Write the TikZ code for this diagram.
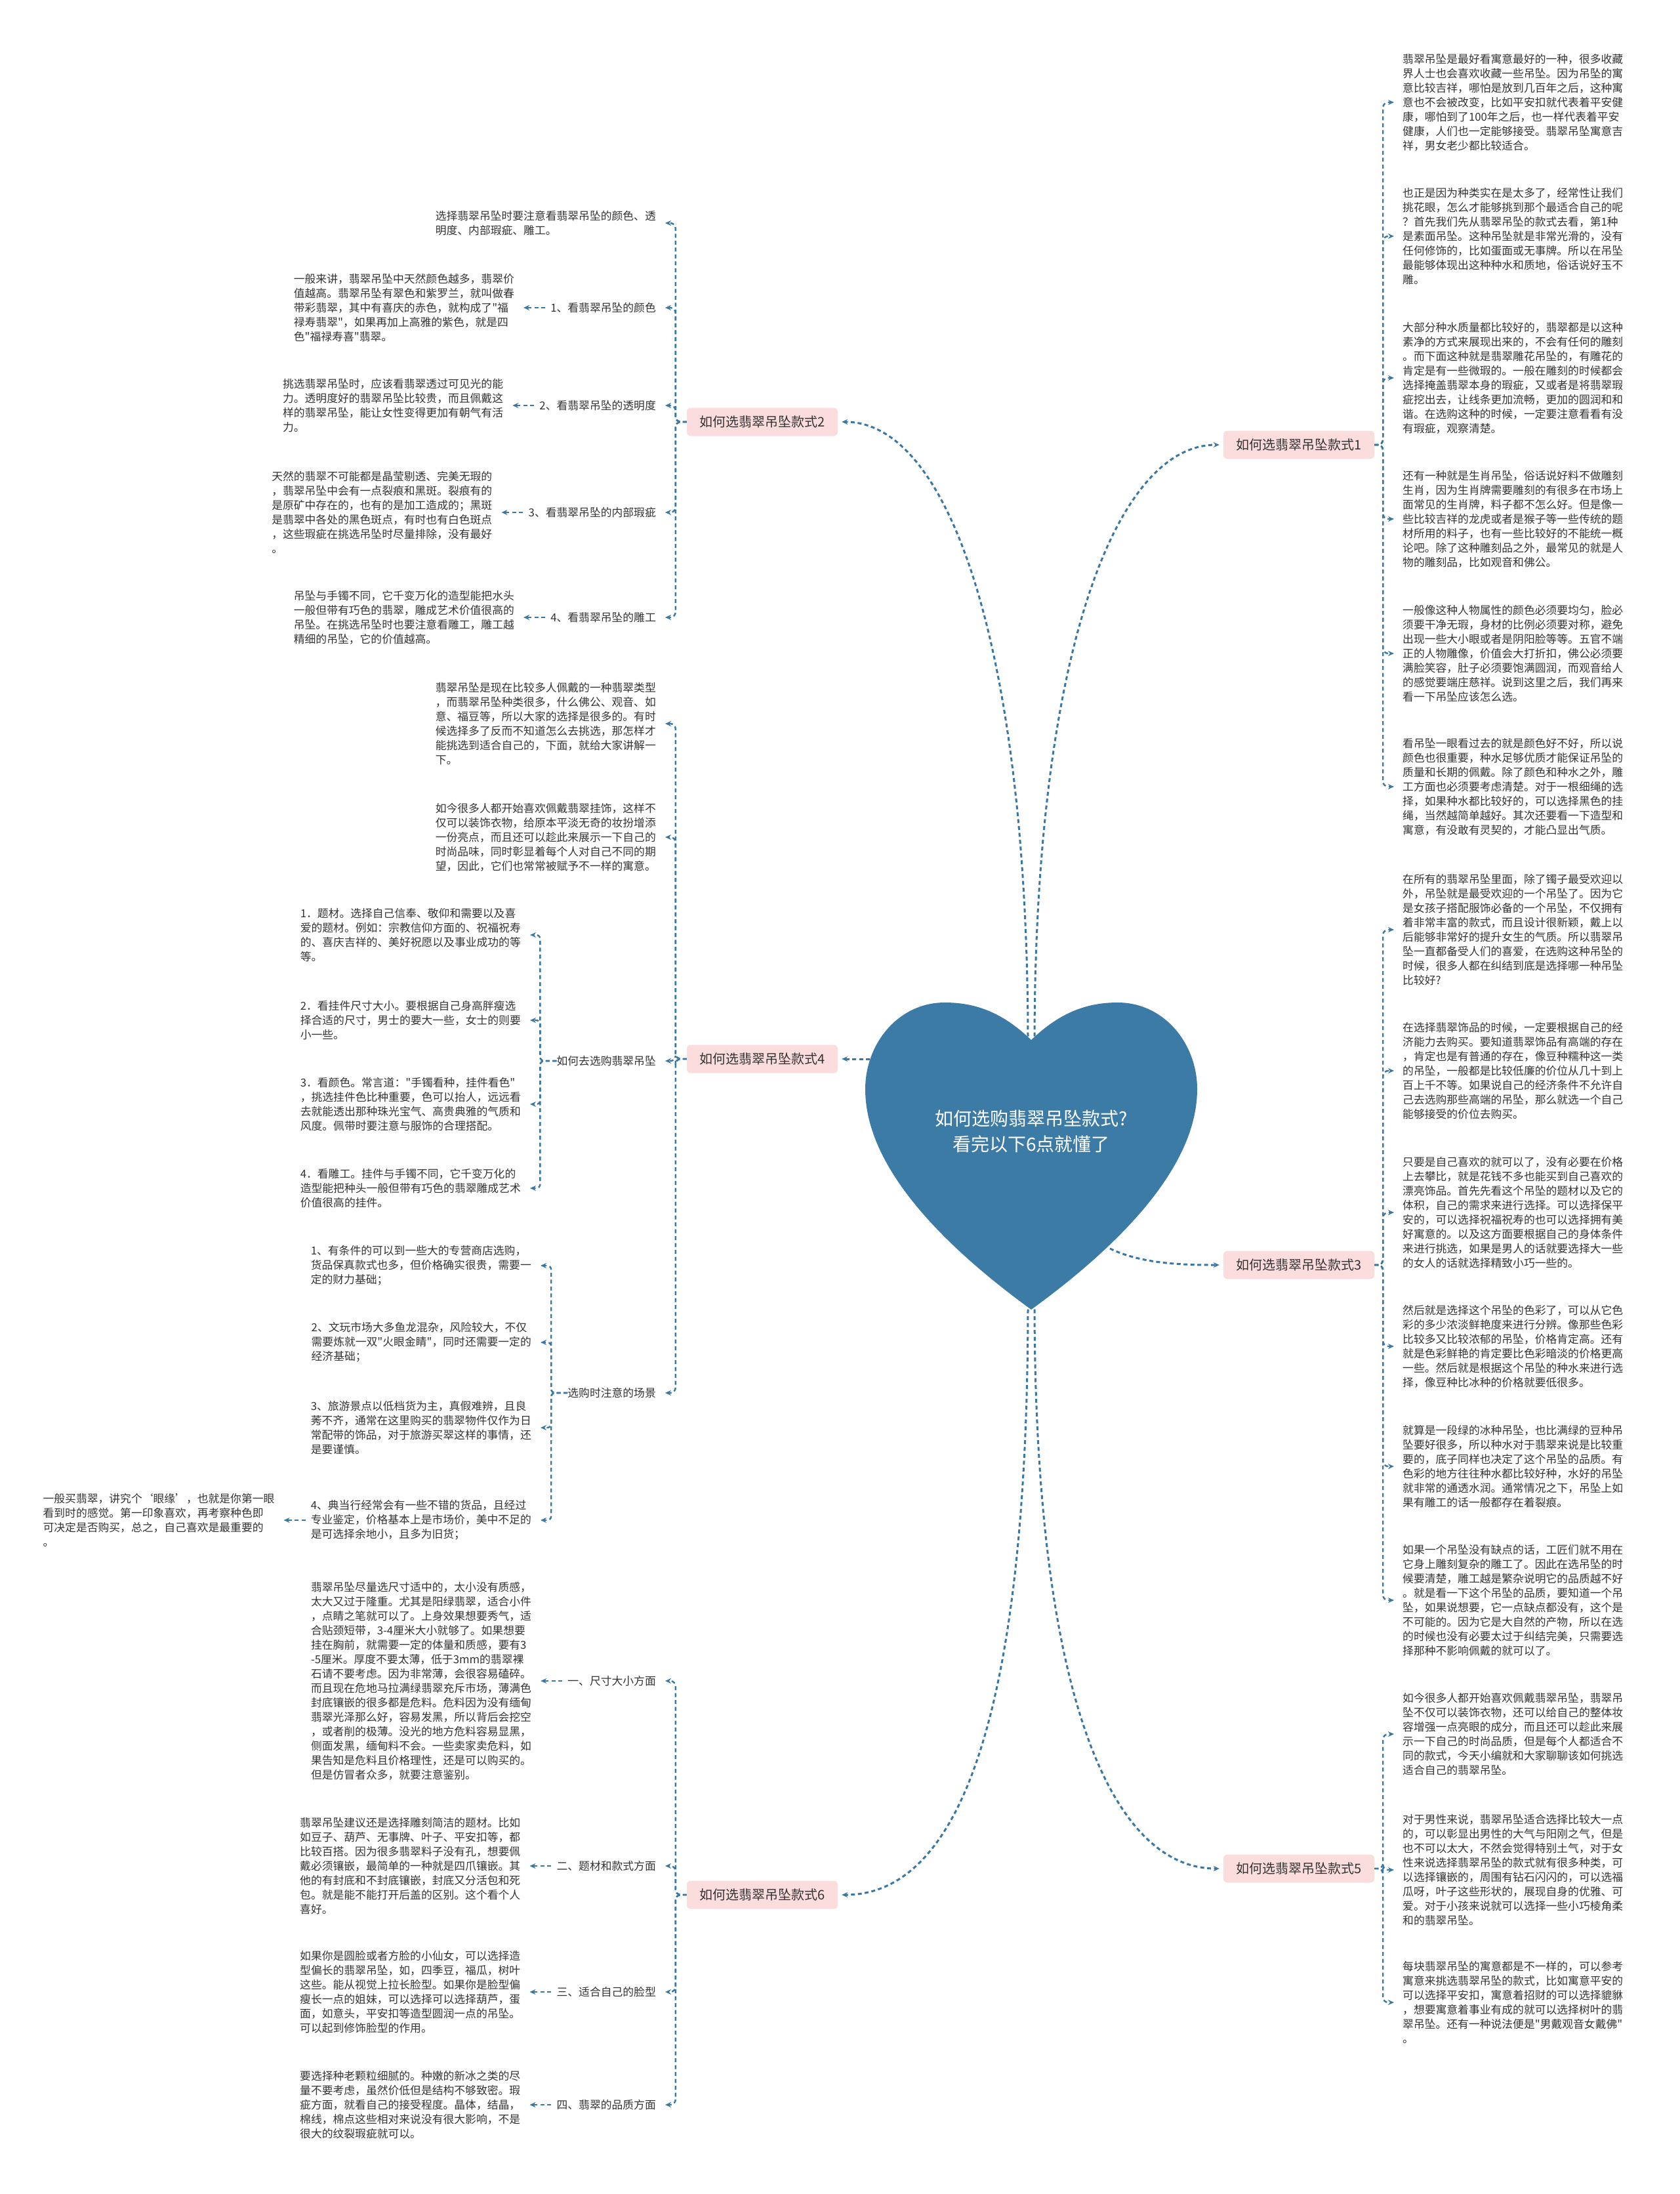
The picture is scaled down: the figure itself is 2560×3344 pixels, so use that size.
\documentclass[tikz,border=0pt]{standalone}
\usepackage{fontspec}
\newfontfamily\cjk{Noto Sans CJK SC}
\usetikzlibrary{arrows.meta}
\definecolor{linec}{HTML}{3A77A2}
\definecolor{heartc}{HTML}{3D7BA7}
\definecolor{pinkc}{HTML}{FBDDDD}
\definecolor{textc}{HTML}{333333}
\tikzset{
  txt/.style={inner sep=0pt, align=left, font=\cjk\fontsize{16.8}{22}\selectfont, text=textc},
  lab/.style={inner sep=0pt, font=\cjk\fontsize{16.8}{22}\selectfont, text=textc},
  branch/.style={fill=pinkc, rounded corners=6pt, minimum width=230pt, minimum height=43pt, inner sep=0pt, font=\cjk\fontsize{20}{24}\selectfont, text=textc},
  conn/.style={draw=linec, line width=2.4pt, dash pattern=on 6pt off 4.5pt, -{Stealth[length=9pt,width=8pt]}},
  mainconn/.style={conn, line width=3pt, shorten >=6pt},
  brk/.style={conn, rounded corners=8pt},
}
\begin{document}
\begin{tikzpicture}[x=1pt,y=-1pt]
\useasboundingbox (0,0) rectangle (2560,3344);
\fill[white] (0,0) rectangle (2560,3344);

% ---------- branch boxes ----------
\node[branch] (b1) at (1980,678) {如何选翡翠吊坠款式1};
\node[branch] (b2) at (1162,643) {如何选翡翠吊坠款式2};
\node[branch] (b3) at (1980,1928) {如何选翡翠吊坠款式3};
\node[branch] (b4) at (1162,1614) {如何选翡翠吊坠款式4};
\node[branch] (b5) at (1980,2848) {如何选翡翠吊坠款式5};
\node[branch] (b6) at (1162,2888) {如何选翡翠吊坠款式6};

% ---------- right side: branch 1 ----------
\node[txt, anchor=west] (r1a) at (2138,156) {翡翠吊坠是最好看寓意最好的一种，很多收藏\\界人士也会喜欢收藏一些吊坠。因为吊坠的寓\\意比较吉祥，哪怕是放到几百年之后，这种寓\\意也不会被改变，比如平安扣就代表着平安健\\康，哪怕到了100年之后，也一样代表着平安\\健康，人们也一定能够接受。翡翠吊坠寓意吉\\祥，男女老少都比较适合。};
\node[txt, anchor=west] (r1b) at (2138,360) {也正是因为种类实在是太多了，经常性让我们\\挑花眼，怎么才能够挑到那个最适合自己的呢\\？首先我们先从翡翠吊坠的款式去看，第1种\\是素面吊坠。这种吊坠就是非常光滑的，没有\\任何修饰的，比如蛋面或无事牌。所以在吊坠\\最能够体现出这种种水和质地，俗话说好玉不\\雕。};
\node[txt, anchor=west] (r1c) at (2138,576) {大部分种水质量都比较好的，翡翠都是以这种\\素净的方式来展现出来的，不会有任何的雕刻\\。而下面这种就是翡翠雕花吊坠的，有雕花的\\肯定是有一些微瑕的。一般在雕刻的时候都会\\选择掩盖翡翠本身的瑕疵，又或者是将翡翠瑕\\疵挖出去，让线条更加流畅，更加的圆润和和\\谐。在选购这种的时候，一定要注意看看有没\\有瑕疵，观察清楚。};
\node[txt, anchor=west] (r1d) at (2138,791) {还有一种就是生肖吊坠，俗话说好料不做雕刻\\生肖，因为生肖牌需要雕刻的有很多在市场上\\面常见的生肖牌，料子都不怎么好。但是像一\\些比较吉祥的龙虎或者是猴子等一些传统的题\\材所用的料子，也有一些比较好的不能统一概\\论吧。除了这种雕刻品之外，最常见的就是人\\物的雕刻品，比如观音和佛公。};
\node[txt, anchor=west] (r1e) at (2138,996) {一般像这种人物属性的颜色必须要均匀，脸必\\须要干净无瑕，身材的比例必须要对称，避免\\出现一些大小眼或者是阴阳脸等等。五官不端\\正的人物雕像，价值会大打折扣，佛公必须要\\满脸笑容，肚子必须要饱满圆润，而观音给人\\的感觉要端庄慈祥。说到这里之后，我们再来\\看一下吊坠应该怎么选。};
\node[txt, anchor=west] (r1f) at (2138,1199) {看吊坠一眼看过去的就是颜色好不好，所以说\\颜色也很重要，种水足够优质才能保证吊坠的\\质量和长期的佩戴。除了颜色和种水之外，雕\\工方面也必须要考虑清楚。对于一根细绳的选\\择，如果种水都比较好的，可以选择黑色的挂\\绳，当然越简单越好。其次还要看一下造型和\\寓意，有没敢有灵契的，才能凸显出气质。};

% ---------- right side: branch 3 ----------
\node[txt, anchor=west] (r3a) at (2138,1417) {在所有的翡翠吊坠里面，除了镯子最受欢迎以\\外，吊坠就是最受欢迎的一个吊坠了。因为它\\是女孩子搭配服饰必备的一个吊坠，不仅拥有\\着非常丰富的款式，而且设计很新颖，戴上以\\后能够非常好的提升女生的气质。所以翡翠吊\\坠一直都备受人们的喜爱，在选购这种吊坠的\\时候，很多人都在纠结到底是选择哪一种吊坠\\比较好?};
\node[txt, anchor=west] (r3b) at (2138,1632) {在选择翡翠饰品的时候，一定要根据自己的经\\济能力去购买。要知道翡翠饰品有高端的存在\\，肯定也是有普通的存在，像豆种糯种这一类\\的吊坠，一般都是比较低廉的价位从几十到上\\百上千不等。如果说自己的经济条件不允许自\\己去选购那些高端的吊坠，那么就选一个自己\\能够接受的价位去购买。};
\node[txt, anchor=west] (r3c) at (2138,1848) {只要是自己喜欢的就可以了，没有必要在价格\\上去攀比，就是花钱不多也能买到自己喜欢的\\漂亮饰品。首先先看这个吊坠的题材以及它的\\体积，自己的需求来进行选择。可以选择保平\\安的，可以选择祝福祝寿的也可以选择拥有美\\好寓意的。以及这方面要根据自己的身体条件\\来进行挑选，如果是男人的话就要选择大一些\\的女人的话就选择精致小巧一些的。};
\node[txt, anchor=west] (r3d) at (2138,2052) {然后就是选择这个吊坠的色彩了，可以从它色\\彩的多少浓淡鲜艳度来进行分辨。像那些色彩\\比较多又比较浓郁的吊坠，价格肯定高。还有\\就是色彩鲜艳的肯定要比色彩暗淡的价格更高\\一些。然后就是根据这个吊坠的种水来进行选\\择，像豆种比冰种的价格就要低很多。};
\node[txt, anchor=west] (r3e) at (2138,2235) {就算是一段绿的冰种吊坠，也比满绿的豆种吊\\坠要好很多，所以种水对于翡翠来说是比较重\\要的，底子同样也决定了这个吊坠的品质。有\\色彩的地方往往种水都比较好种，水好的吊坠\\就非常的通透水润。通常情况之下，吊坠上如\\果有雕工的话一般都存在着裂痕。};
\node[txt, anchor=west] (r3f) at (2138,2439) {如果一个吊坠没有缺点的话，工匠们就不用在\\它身上雕刻复杂的雕工了。因此在选吊坠的时\\候要清楚，雕工越是繁杂说明它的品质越不好\\。就是看一下这个吊坠的品质，要知道一个吊\\坠，如果说想要，它一点缺点都没有，这个是\\不可能的。因为它是大自然的产物，所以在选\\的时候也没有必要太过于纠结完美，只需要选\\择那种不影响佩戴的就可以了。};

% ---------- right side: branch 5 ----------
\node[txt, anchor=west] (r5a) at (2138,2643) {如今很多人都开始喜欢佩戴翡翠吊坠，翡翠吊\\坠不仅可以装饰衣物，还可以给自己的整体妆\\容增强一点亮眼的成分，而且还可以趁此来展\\示一下自己的时尚品质，但是每个人都适合不\\同的款式，今天小编就和大家聊聊该如何挑选\\适合自己的翡翠吊坠。};
\node[txt, anchor=west] (r5b) at (2138,2850) {对于男性来说，翡翠吊坠适合选择比较大一点\\的，可以彰显出男性的大气与阳刚之气，但是\\也不可以太大，不然会觉得特别土气，对于女\\性来说选择翡翠吊坠的款式就有很多种类，可\\以选择镶嵌的，周围有钻石闪闪的，可以选福\\瓜呀，叶子这些形状的，展现自身的优雅、可\\爱。对于小孩来说就可以选择一些小巧棱角柔\\和的翡翠吊坠。};
\node[txt, anchor=west] (r5c) at (2138,3052) {每块翡翠吊坠的寓意都是不一样的，可以参考\\寓意来挑选翡翠吊坠的款式，比如寓意平安的\\可以选择平安扣，寓意着招财的可以选择貔貅\\，想要寓意着事业有成的就可以选择树叶的翡\\翠吊坠。还有一种说法便是"男戴观音女戴佛"\\。};

% ---------- left side: branch 2 ----------
\node[txt, anchor=east] (l2a) at (1000,340) {选择翡翠吊坠时要注意看翡翠吊坠的颜色、透\\明度、内部瑕疵、雕工。};
\node[lab, anchor=east] (l2b) at (1000,469) {1、看翡翠吊坠的颜色};
\node[txt, anchor=east] (l2bt) at ([xshift=-55pt]l2b.west) {一般来讲，翡翠吊坠中天然颜色越多，翡翠价\\值越高。翡翠吊坠有翠色和紫罗兰，就叫做春\\带彩翡翠，其中有喜庆的赤色，就构成了"福\\禄寿翡翠"，如果再加上高雅的紫色，就是四\\色"福禄寿喜"翡翠。};
\node[lab, anchor=east] (l2c) at (1000,618) {2、看翡翠吊坠的透明度};
\node[txt, anchor=east] (l2ct) at ([xshift=-55pt]l2c.west) {挑选翡翠吊坠时，应该看翡翠透过可见光的能\\力。透明度好的翡翠吊坠比较贵，而且佩戴这\\样的翡翠吊坠，能让女性变得更加有朝气有活\\力。};
\node[lab, anchor=east] (l2d) at (1000,781) {3、看翡翠吊坠的内部瑕疵};
\node[txt, anchor=east] (l2dt) at ([xshift=-55pt]l2d.west) {天然的翡翠不可能都是晶莹剔透、完美无瑕的\\，翡翠吊坠中会有一点裂痕和黑斑。裂痕有的\\是原矿中存在的，也有的是加工造成的；黑斑\\是翡翠中各处的黑色斑点，有时也有白色斑点\\，这些瑕疵在挑选吊坠时尽量排除，没有最好\\。};
\node[lab, anchor=east] (l2e) at (1000,941) {4、看翡翠吊坠的雕工};
\node[txt, anchor=east] (l2et) at ([xshift=-55pt]l2e.west) {吊坠与手镯不同，它千变万化的造型能把水头\\一般但带有巧色的翡翠，雕成艺术价值很高的\\吊坠。在挑选吊坠时也要注意看雕工，雕工越\\精细的吊坠，它的价值越高。};

% ---------- left side: branch 4 ----------
\node[txt, anchor=east] (l4a) at (1000,1103) {翡翠吊坠是现在比较多人佩戴的一种翡翠类型\\，而翡翠吊坠种类很多，什么佛公、观音、如\\意、福豆等，所以大家的选择是很多的。有时\\候选择多了反而不知道怎么去挑选，那怎样才\\能挑选到适合自己的，下面，就给大家讲解一\\下。};
\node[txt, anchor=east] (l4b) at (1000,1276) {如今很多人都开始喜欢佩戴翡翠挂饰，这样不\\仅可以装饰衣物，给原本平淡无奇的妆扮增添\\一份亮点，而且还可以趁此来展示一下自己的\\时尚品味，同时彰显着每个人对自己不同的期\\望，因此，它们也常常被赋予不一样的寓意。};
\node[lab, anchor=east] (l4c) at (1000,1617) {如何去选购翡翠吊坠};
\node[txt, anchor=east] (l4c1) at (794,1425) {1．题材。选择自己信奉、敬仰和需要以及喜\\爱的题材。例如：宗教信仰方面的、祝福祝寿\\的、喜庆吉祥的、美好祝愿以及事业成功的等\\等。};
\node[txt, anchor=east] (l4c2) at (794,1555) {2．看挂件尺寸大小。要根据自己身高胖瘦选\\择合适的尺寸，男士的要大一些，女士的则要\\小一些。};
\node[txt, anchor=east] (l4c3) at (794,1683) {3．看颜色。常言道："手镯看种，挂件看色"\\，挑选挂件色比种重要，色可以抬人，远远看\\去就能透出那种珠光宝气、高贵典雅的气质和\\风度。佩带时要注意与服饰的合理搭配。};
\node[txt, anchor=east] (l4c4) at (794,1811) {4．看雕工。挂件与手镯不同，它千变万化的\\造型能把种头一般但带有巧色的翡翠雕成艺术\\价值很高的挂件。};
\node[lab, anchor=east] (l4d) at (1000,2123) {选购时注意的场景};
\node[txt, anchor=east] (l4d1) at (810,1929) {1、有条件的可以到一些大的专营商店选购，\\货品保真款式也多，但价格确实很贵，需要一\\定的财力基础；};
\node[txt, anchor=east] (l4d2) at (810,2046) {2、文玩市场大多鱼龙混杂，风险较大，不仅\\需要炼就一双"火眼金睛"，同时还需要一定的\\经济基础；};
\node[txt, anchor=east] (l4d3) at (810,2176) {3、旅游景点以低档货为主，真假难辨，且良\\莠不齐，通常在这里购买的翡翠物件仅作为日\\常配带的饰品，对于旅游买翠这样的事情，还\\是要谨慎。};
\node[txt, anchor=east] (l4d4) at (810,2317) {4、典当行经常会有一些不错的货品，且经过\\专业鉴定，价格基本上是市场价，美中不足的\\是可选择余地小，且多为旧货；};
\node[txt, anchor=east] (l4d4t) at ([xshift=-55pt]l4d4.west) {一般买翡翠，讲究个‘眼缘’，也就是你第一眼\\看到时的感觉。第一印象喜欢，再考察种色即\\可决定是否购买，总之，自己喜欢是最重要的\\。};

% ---------- left side: branch 6 ----------
\node[lab, anchor=east] (l6a) at (1000,2562) {一、尺寸大小方面};
\node[txt, anchor=east] (l6at) at ([xshift=-55pt]l6a.west) {翡翠吊坠尽量选尺寸适中的，太小没有质感，\\太大又过于隆重。尤其是阳绿翡翠，适合小件\\，点睛之笔就可以了。上身效果想要秀气，适\\合贴颈短带，3-4厘米大小就够了。如果想要\\挂在胸前，就需要一定的体量和质感，要有3\\-5厘米。厚度不要太薄，低于3mm的翡翠裸\\石请不要考虑。因为非常薄，会很容易磕碎。\\而且现在危地马拉满绿翡翠充斥市场，薄满色\\封底镶嵌的很多都是危料。危料因为没有缅甸\\翡翠光泽那么好，容易发黑，所以背后会挖空\\，或者削的极薄。没光的地方危料容易显黑，\\侧面发黑，缅甸料不会。一些卖家卖危料，如\\果告知是危料且价格理性，还是可以购买的。\\但是仿冒者众多，就要注意鉴别。};
\node[lab, anchor=east] (l6b) at (1000,2844) {二、题材和款式方面};
\node[txt, anchor=east] (l6bt) at ([xshift=-55pt]l6b.west) {翡翠吊坠建议还是选择雕刻简洁的题材。比如\\如豆子、葫芦、无事牌、叶子、平安扣等，都\\比较百搭。因为很多翡翠料子没有孔，想要佩\\戴必须镶嵌，最简单的一种就是四爪镶嵌。其\\他的有封底和不封底镶嵌，封底又分活包和死\\包。就是能不能打开后盖的区别。这个看个人\\喜好。};
\node[lab, anchor=east] (l6c) at (1000,3036) {三、适合自己的脸型};
\node[txt, anchor=east] (l6ct) at ([xshift=-55pt]l6c.west) {如果你是圆脸或者方脸的小仙女，可以选择造\\型偏长的翡翠吊坠，如，四季豆，福瓜，树叶\\这些。能从视觉上拉长脸型。如果你是脸型偏\\瘦长一点的姐妹，可以选择可以选择葫芦，蛋\\面，如意头，平安扣等造型圆润一点的吊坠。\\可以起到修饰脸型的作用。};
\node[lab, anchor=east] (l6d) at (1000,3208) {四、翡翠的品质方面};
\node[txt, anchor=east] (l6dt) at ([xshift=-55pt]l6d.west) {要选择种老颗粒细腻的。种嫩的新冰之类的尽\\量不要考虑，虽然价低但是结构不够致密。瑕\\疵方面，就看自己的接受程度。晶体，结晶，\\棉线，棉点这些相对来说没有很大影响，不是\\很大的纹裂瑕疵就可以。};

% ---------- connectors: heart to branches ----------
\coordinate (htl) at (1567,1590);
\coordinate (htr) at (1577,1590);
\coordinate (hbl) at (1567,1985);
\coordinate (hbr) at (1577,1985);
\coordinate (hl) at (1326,1614);
\coordinate (hr) at (1692,1903);
\draw[mainconn] (htl) .. controls (1567,1000) and (1450,643) .. (b2);
\draw[mainconn] (htr) .. controls (1577,1000) and (1700,678) .. (b1);
\draw[mainconn] (hl) -- (b4);
\draw[mainconn] (hr) .. controls (1740,1926) and (1800,1928) .. (b3);
\draw[mainconn] (hbr) .. controls (1577,2600) and (1700,2848) .. (b5);
\draw[mainconn] (hbl) .. controls (1567,2650) and (1450,2888) .. (b6);

% ---------- connectors: right brackets ----------
\foreach \c in {r1a,r1b,r1c,r1d,r1e,r1f}
  \draw[brk] (b1.east) -- ++(13,0) |- ([xshift=-13pt]\c.west);
\foreach \c in {r3a,r3b,r3c,r3d,r3e,r3f}
  \draw[brk] (b3.east) -- ++(13,0) |- ([xshift=-13pt]\c.west);
\foreach \c in {r5a,r5b,r5c}
  \draw[brk] (b5.east) -- ++(13,0) |- ([xshift=-13pt]\c.west);

% ---------- connectors: left brackets ----------
\foreach \c in {l2a,l2b,l2c,l2d,l2e}
  \draw[brk] (b2.west) -- ++(-17,0) |- ([xshift=14pt]\c.east);
\foreach \c in {l4a,l4b,l4c,l4d}
  \draw[brk] (b4.west) -- ++(-17,0) |- ([xshift=14pt]\c.east);
\foreach \c in {l6a,l6b,l6c,l6d}
  \draw[brk] (b6.west) -- ++(-17,0) |- ([xshift=14pt]\c.east);
\foreach \c in {l4c1,l4c2,l4c3,l4c4}
  \draw[brk, rounded corners=6pt] (l4c.west) -- ++(-25,0) |- ([xshift=14pt]\c.east);
\foreach \c in {l4d1,l4d2,l4d3,l4d4}
  \draw[brk, rounded corners=6pt] (l4d.west) -- ++(-25,0) |- ([xshift=14pt]\c.east);

% ---------- direct label -> text arrows ----------
\draw[conn] ([xshift=-8pt]l2b.west) -- ([xshift=14pt]l2bt.east);
\draw[conn] ([xshift=-8pt]l2c.west) -- ([xshift=14pt]l2ct.east);
\draw[conn] ([xshift=-8pt]l2d.west) -- ([xshift=14pt]l2dt.east);
\draw[conn] ([xshift=-8pt]l2e.west) -- ([xshift=14pt]l2et.east);
\draw[conn] ([xshift=-8pt]l4d4.west) -- ([xshift=14pt]l4d4t.east);
\draw[conn] ([xshift=-8pt]l6a.west) -- ([xshift=14pt]l6at.east);
\draw[conn] ([xshift=-8pt]l6b.west) -- ([xshift=14pt]l6bt.east);
\draw[conn] ([xshift=-8pt]l6c.west) -- ([xshift=14pt]l6ct.east);
\draw[conn] ([xshift=-8pt]l6d.west) -- ([xshift=14pt]l6dt.east);

% ---------- heart ----------
\path[fill=heartc] (1572,1585) .. controls (1530,1545) and (1490,1528) .. (1440,1528)
  .. controls (1370,1528) and (1319,1590) .. (1319,1660)
  .. controls (1319,1780) and (1440,1900) .. (1572,1996)
  .. controls (1704,1900) and (1825,1780) .. (1825,1660)
  .. controls (1825,1590) and (1774,1528) .. (1704,1528)
  .. controls (1654,1528) and (1614,1545) .. (1572,1585) -- cycle;
\node[inner sep=0pt, align=center, text=white, font=\cjk\fontsize{28}{39}\selectfont] (root) at (1572,1724) {如何选购翡翠吊坠款式?\\看完以下6点就懂了};
\end{tikzpicture}
\end{document}
